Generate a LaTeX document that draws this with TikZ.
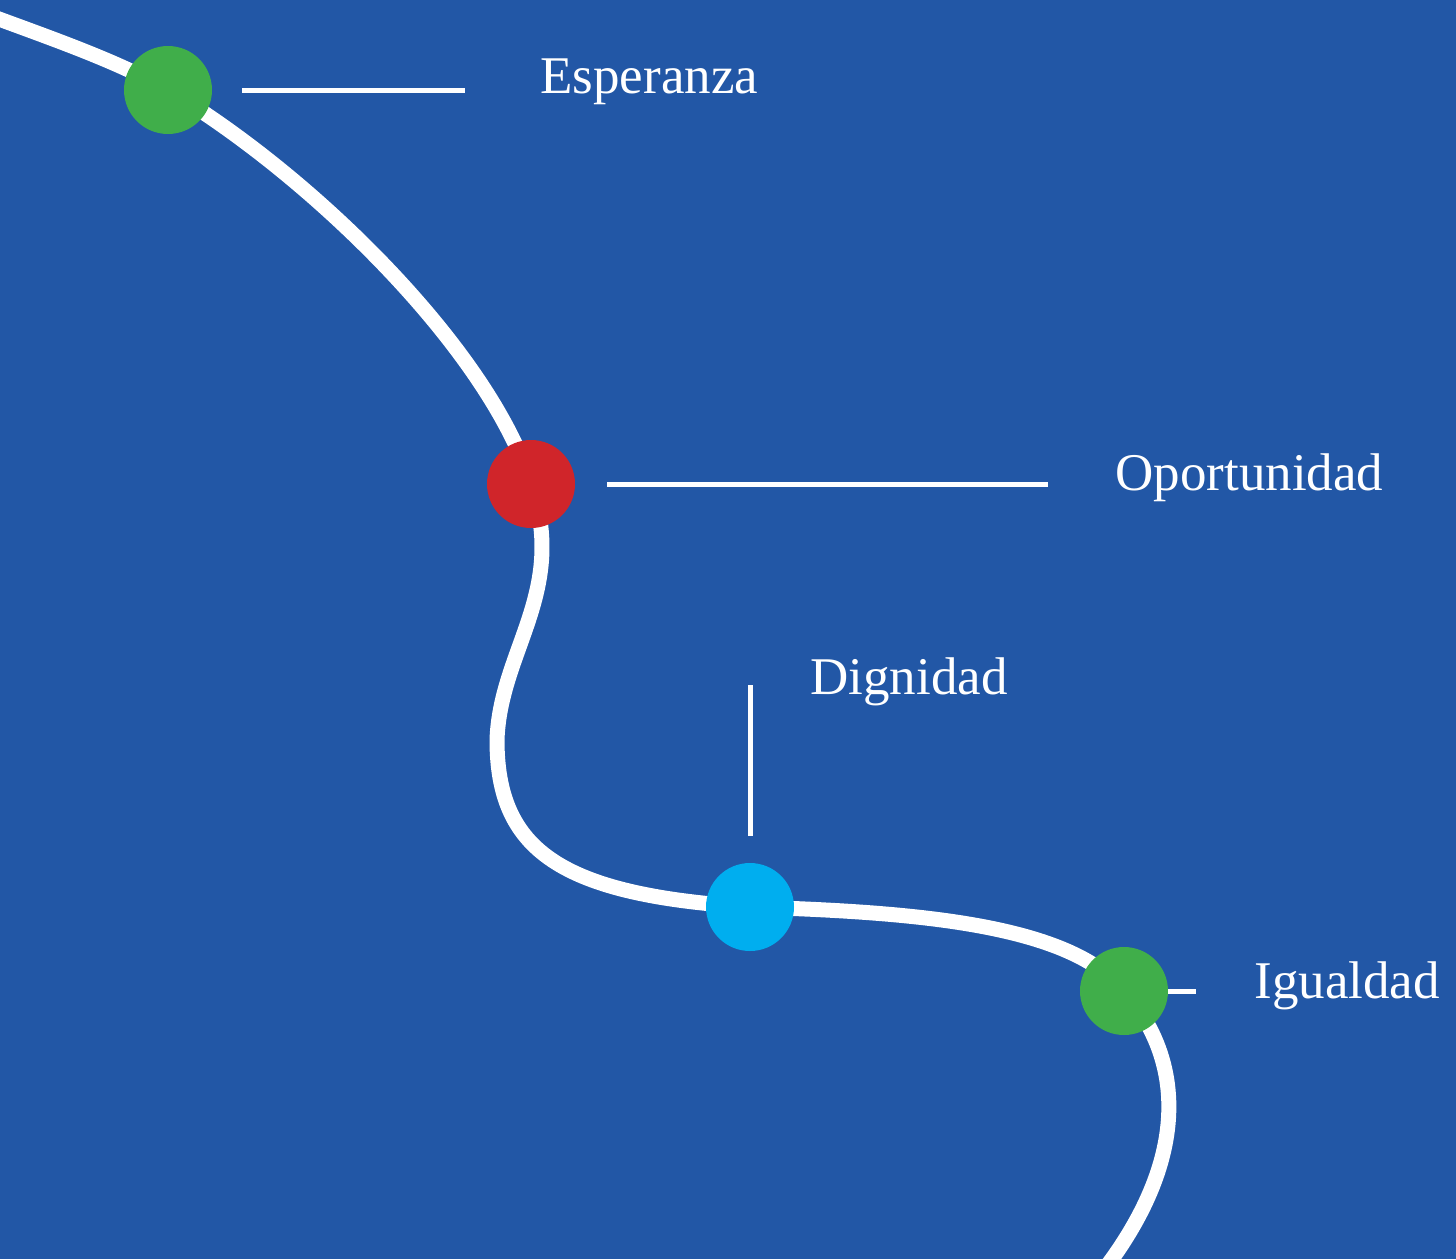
\documentclass[tikz,border=0pt]{standalone}
\usepackage{fontspec}
\setmainfont{Liberation Serif}
\definecolor{mybg}{RGB}{34,87,166}
\definecolor{mygreen}{RGB}{64,174,74}
\definecolor{myred}{RGB}{208,37,42}
\definecolor{mycyan}{RGB}{0,174,239}

\begin{document}
\begin{tikzpicture}[x=0.5pt, y=-0.5pt,
    dot/.style={circle, fill=#1, minimum size=44pt, inner sep=0pt},
    tick/.style={white, line width=2.5pt},
    lbl/.style={anchor=base west, inner sep=0pt, text=white, font=\fontsize{26.5}{30}\selectfont}]
    % Background.
    \fill[mybg] (0,0) rectangle (1456,1259);
    \useasboundingbox (0,0) rectangle (1456,1259);
    \clip (0,0) rectangle (1456,1259);
    % Points on the road.
    \coordinate (pesp) at (168,90);
    \coordinate (popo) at (531,484);
    \coordinate (pdig) at (750,907);
    \coordinate (pigu) at (1124,991);
    \begin{scope}
        \draw[white, line width=7.5pt] (-20,12)
            .. controls (50,38) and (115,60) .. (pesp)
            .. controls (318,180) and (491,354) .. (popo)
            .. controls (568,592) and (500,650) .. (497,740)
            .. controls (497,850) and (560,895) .. (pdig)
            .. controls (920,912) and (1070,925) .. (pigu)
            .. controls (1185,1060) and (1190,1160) .. (1100,1275);
    \end{scope}
    % Dots.
    \node[dot=mygreen] (esp) at (pesp) {};
    \node[dot=myred] (opo) at (popo) {};
    \node[dot=mycyan] (dig) at (pdig) {};
    \node[dot=mygreen] (igu) at (pigu) {};
    % Labels.
    \node[lbl] (esplabel) at (540,93) {Esperanza};
    \node[lbl] (opolabel) at (1115,490) {Oportunidad};
    \node[lbl] (diglabel) at (810,694) {Dignidad};
    \node[lbl] (igulabel) at (1254,998) {Igualdad};
    % Leader lines.
    \coordinate (espa) at (242,90);
    \coordinate (espb) at (465,90);
    \coordinate (opoa) at (607,484);
    \coordinate (opob) at (1048,484);
    \coordinate (diga) at (750,836);
    \coordinate (digb) at (750,685);
    \coordinate (igub) at (1196,991);
    \draw[tick] (espa) -- (espb);
    \draw[tick] (opoa) -- (opob);
    \draw[tick] (diga) -- (digb);
    \draw[tick] (igu.east) -- (igub);
\end{tikzpicture}
\end{document}
